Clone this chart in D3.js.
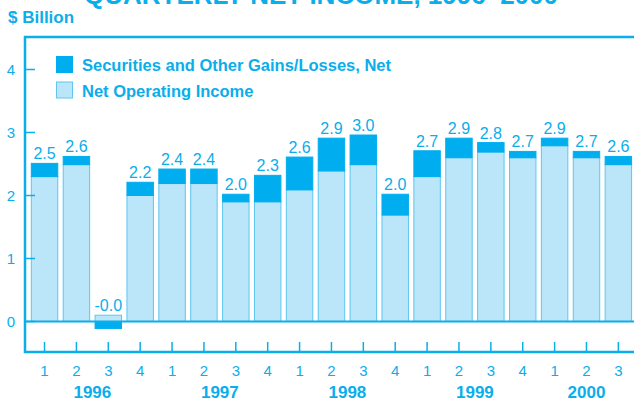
<!DOCTYPE html>
<meta charset="utf-8">
<style>
body { margin: 0; background: #fff; }
svg { display: block; font-family: "Liberation Sans", Arial, sans-serif; }
</style>
<body>
<svg width="634" height="400"></svg>
<script src="https://cdn.jsdelivr.net/npm/d3@7"></script>
<script>

// quarterly data, $ billion
var quarterLabels = ["1","2","3","4","1","2","3","4","1","2","3","4","1","2","3","4","1","2","3"];
var years = ["1996","1997","1998","1999","2000"];
var netOperating = [2.30, 2.49, 0.10, 2.00, 2.19, 2.19, 1.90, 1.90, 2.09, 2.39, 2.49, 1.69, 2.30, 2.60, 2.69, 2.60, 2.79, 2.60, 2.49];
var gains        = [0.21, 0.13, -0.11, 0.21, 0.23, 0.23, 0.12, 0.42, 0.52, 0.52, 0.47, 0.33, 0.41, 0.31, 0.15, 0.10, 0.12, 0.10, 0.13];
var yTicks = [0, 1, 2, 3, 4];

var cyan = "#0aaeeb", dark = "#00aeef", light = "#bbe5f8", lightStroke = "#5ec6ef";

var svg = d3.select("svg");

var x = d3.scaleBand()
    .domain(d3.range(quarterLabels.length))
    .range([28.6, 634.3])
    .paddingInner(0.17)
    .paddingOuter(0.085);

var y = d3.scaleLinear().domain([0, 4]).range([321.5, 69.5]);

// title (mostly cut off at top)
svg.append("text")
    .attr("x", 321).attr("y", 4)
    .attr("text-anchor", "middle")
    .attr("font-size", 26).attr("font-weight", "bold")
    .attr("fill", cyan)
    .text("QUARTERLY NET INCOME, 1996\u20132000");

svg.append("text")
    .attr("x", 8).attr("y", 23)
    .attr("font-size", 17).attr("font-weight", "bold")
    .attr("fill", cyan)
    .text("$ Billion");

// bars
var bars = svg.append("g");
quarterLabels.forEach(function(q, i) {
  var bx = x(i), bw = x.bandwidth();
  var n = netOperating[i], g = gains[i];
  bars.append("rect")
      .attr("x", bx).attr("width", bw)
      .attr("y", y(n)).attr("height", y(0) - y(n))
      .attr("fill", light).attr("stroke", lightStroke).attr("stroke-width", 1);
  var g0 = g >= 0 ? n : 0, g1 = g >= 0 ? n + g : g;
  bars.append("rect")
      .attr("x", bx).attr("width", bw)
      .attr("y", y(Math.max(g0, g1))).attr("height", Math.abs(y(g0) - y(g1)))
      .attr("fill", dark).attr("stroke", dark).attr("stroke-width", 1);
  var top = Math.max(n, n + g);
  svg.append("text")
      .attr("x", bx + bw / 2).attr("y", y(top) - 4)
      .attr("text-anchor", "middle")
      .attr("font-size", 16)
      .attr("fill", cyan)
      .text((n + g).toFixed(1));
});

// frame and zero line
svg.append("path")
    .attr("d", "M634,37H25V352H634")
    .attr("fill", "none").attr("stroke", cyan).attr("stroke-width", 2.5);
svg.append("line")
    .attr("x1", 25).attr("x2", 634).attr("y1", y(0)).attr("y2", y(0))
    .attr("stroke", cyan).attr("stroke-width", 2.2);

// y ticks
yTicks.forEach(function(t) {
  svg.append("line")
      .attr("x1", 25).attr("x2", 35).attr("y1", y(t)).attr("y2", y(t))
      .attr("stroke", cyan).attr("stroke-width", 1.5);
  svg.append("text")
      .attr("x", 11).attr("y", y(t) + 5.5)
      .attr("text-anchor", "middle")
      .attr("font-size", 15).attr("fill", cyan)
      .text(t);
});

// x ticks and quarter labels
quarterLabels.forEach(function(q, i) {
  var cx = x(i) + x.bandwidth() / 2;
  svg.append("line")
      .attr("x1", cx).attr("x2", cx).attr("y1", 342).attr("y2", 352)
      .attr("stroke", cyan).attr("stroke-width", 1.5);
  svg.append("text")
      .attr("x", cx).attr("y", 376)
      .attr("text-anchor", "middle")
      .attr("font-size", 15).attr("fill", cyan)
      .text(q);
});

// year labels, centred under their quarters
years.forEach(function(yr, k) {
  var idx = d3.range(k * 4, Math.min(k * 4 + 4, quarterLabels.length));
  var cx = d3.mean(idx, function(i) { return x(i) + x.bandwidth() / 2; });
  svg.append("text")
      .attr("x", cx).attr("y", 397.5)
      .attr("text-anchor", "middle")
      .attr("font-size", 17).attr("font-weight", "bold")
      .attr("fill", cyan)
      .text(yr);
});

// legend
var legend = [["Securities and Other Gains/Losses, Net", dark, dark], ["Net Operating Income", light, lightStroke]];
legend.forEach(function(l, k) {
  svg.append("rect")
      .attr("x", 56.5).attr("y", 56.5 + k * 25.5).attr("width", 16).attr("height", 16)
      .attr("fill", l[1]).attr("stroke", l[2]).attr("stroke-width", 1);
  svg.append("text")
      .attr("x", 82).attr("y", 71 + k * 25.5)
      .attr("font-size", 16.5).attr("font-weight", "bold")
      .attr("fill", cyan)
      .text(l[0]);
});

</script>
</body>
